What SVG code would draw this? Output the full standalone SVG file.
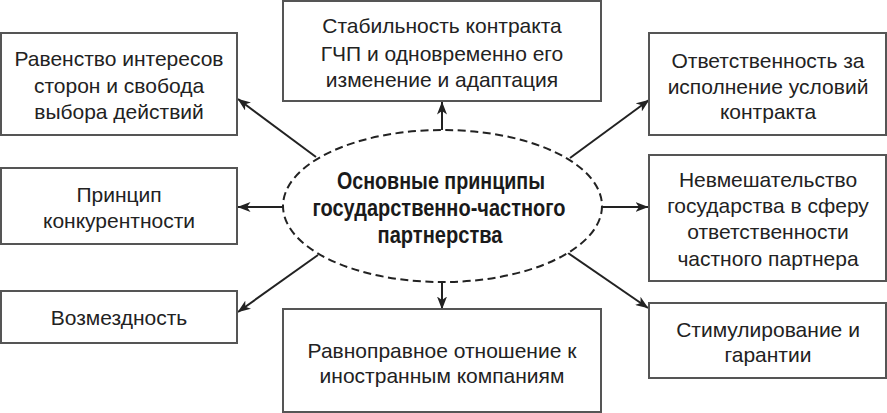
<svg xmlns="http://www.w3.org/2000/svg" width="887" height="413" viewBox="0 0 887 413">
<defs>
<marker id="ah" viewBox="0 0 13 10" refX="12.5" refY="5" markerWidth="13" markerHeight="10" markerUnits="userSpaceOnUse" orient="auto">
<path d="M0,0 L13,5 L0,10 L3.5,5 Z" fill="#222"/>
</marker>
<style>
.box{fill:#fff;stroke:#555;stroke-width:2}
.t{font-family:"Liberation Sans",Arial,sans-serif;font-size:21px;fill:#222;text-anchor:middle}
.c{font-family:"Liberation Sans",Arial,sans-serif;font-size:23px;font-weight:bold;fill:#1a1a1a;text-anchor:middle}
.ell{fill:#fff;stroke:#222;stroke-width:2;stroke-dasharray:8 4.5}
.ar{stroke:#222;stroke-width:2;fill:none;marker-end:url(#ah)}
</style>
</defs>
<rect width="887" height="413" fill="#fff"/>
<g id="connectors">
<line class="ar" x1="442" y1="130" x2="442" y2="102"/>
<line class="ar" x1="442" y1="282" x2="442" y2="309"/>
<line class="ar" x1="316" y1="157" x2="238" y2="99"/>
<line class="ar" x1="570" y1="158" x2="649" y2="100"/>
<line class="ar" x1="283" y1="207" x2="238" y2="207"/>
<line class="ar" x1="602" y1="207" x2="648" y2="207"/>
<line class="ar" x1="318" y1="255" x2="238" y2="312"/>
<line class="ar" x1="568" y1="253" x2="648" y2="308"/>
</g>
<g id="center">
<ellipse class="ell" cx="442.5" cy="206" rx="159.5" ry="76"/>
<text class="c" x="441" y="189" textLength="208" lengthAdjust="spacingAndGlyphs">Основные принципы</text>
<text class="c" x="439" y="216" textLength="253" lengthAdjust="spacingAndGlyphs">государственно-частного</text>
<text class="c" x="440" y="243" textLength="125" lengthAdjust="spacingAndGlyphs">партнерства</text>
</g>
<g id="n1">
<rect class="box" x="1" y="33" width="236" height="102"/>
<text class="t" x="119" y="66">Равенство интересов</text>
<text class="t" x="119" y="93">сторон и свобода</text>
<text class="t" x="119" y="119">выбора действий</text>
</g>
<g id="n2">
<rect class="box" x="283" y="1" width="318" height="100"/>
<text class="t" x="442" y="33">Стабильность контракта</text>
<text class="t" x="442" y="61">ГЧП и одновременно его</text>
<text class="t" x="442" y="87">изменение и адаптация</text>
</g>
<g id="n3">
<rect class="box" x="649" y="33" width="237" height="102"/>
<text class="t" x="768" y="68">Ответственность за</text>
<text class="t" x="768" y="94">исполнение условий</text>
<text class="t" x="768" y="119">контракта</text>
</g>
<g id="n4">
<rect class="box" x="1" y="168" width="236" height="76"/>
<text class="t" x="119" y="202">Принцип</text>
<text class="t" x="119" y="228">конкурентности</text>
</g>
<g id="n5">
<rect class="box" x="649" y="155" width="237" height="126"/>
<text class="t" x="768" y="187">Невмешательство</text>
<text class="t" x="768" y="213">государства в сферу</text>
<text class="t" x="768" y="239">ответственности</text>
<text class="t" x="768" y="266">частного партнера</text>
</g>
<g id="n6">
<rect class="box" x="1" y="291" width="236" height="52"/>
<text class="t" x="119" y="325">Возмездность</text>
</g>
<g id="n7">
<rect class="box" x="283" y="309" width="318" height="103"/>
<text class="t" x="442" y="358">Равноправное отношение к</text>
<text class="t" x="442" y="383">иностранным компаниям</text>
</g>
<g id="n8">
<rect class="box" x="649" y="303" width="237" height="75"/>
<text class="t" x="768" y="337">Стимулирование и</text>
<text class="t" x="768" y="362">гарантии</text>
</g>
</svg>
